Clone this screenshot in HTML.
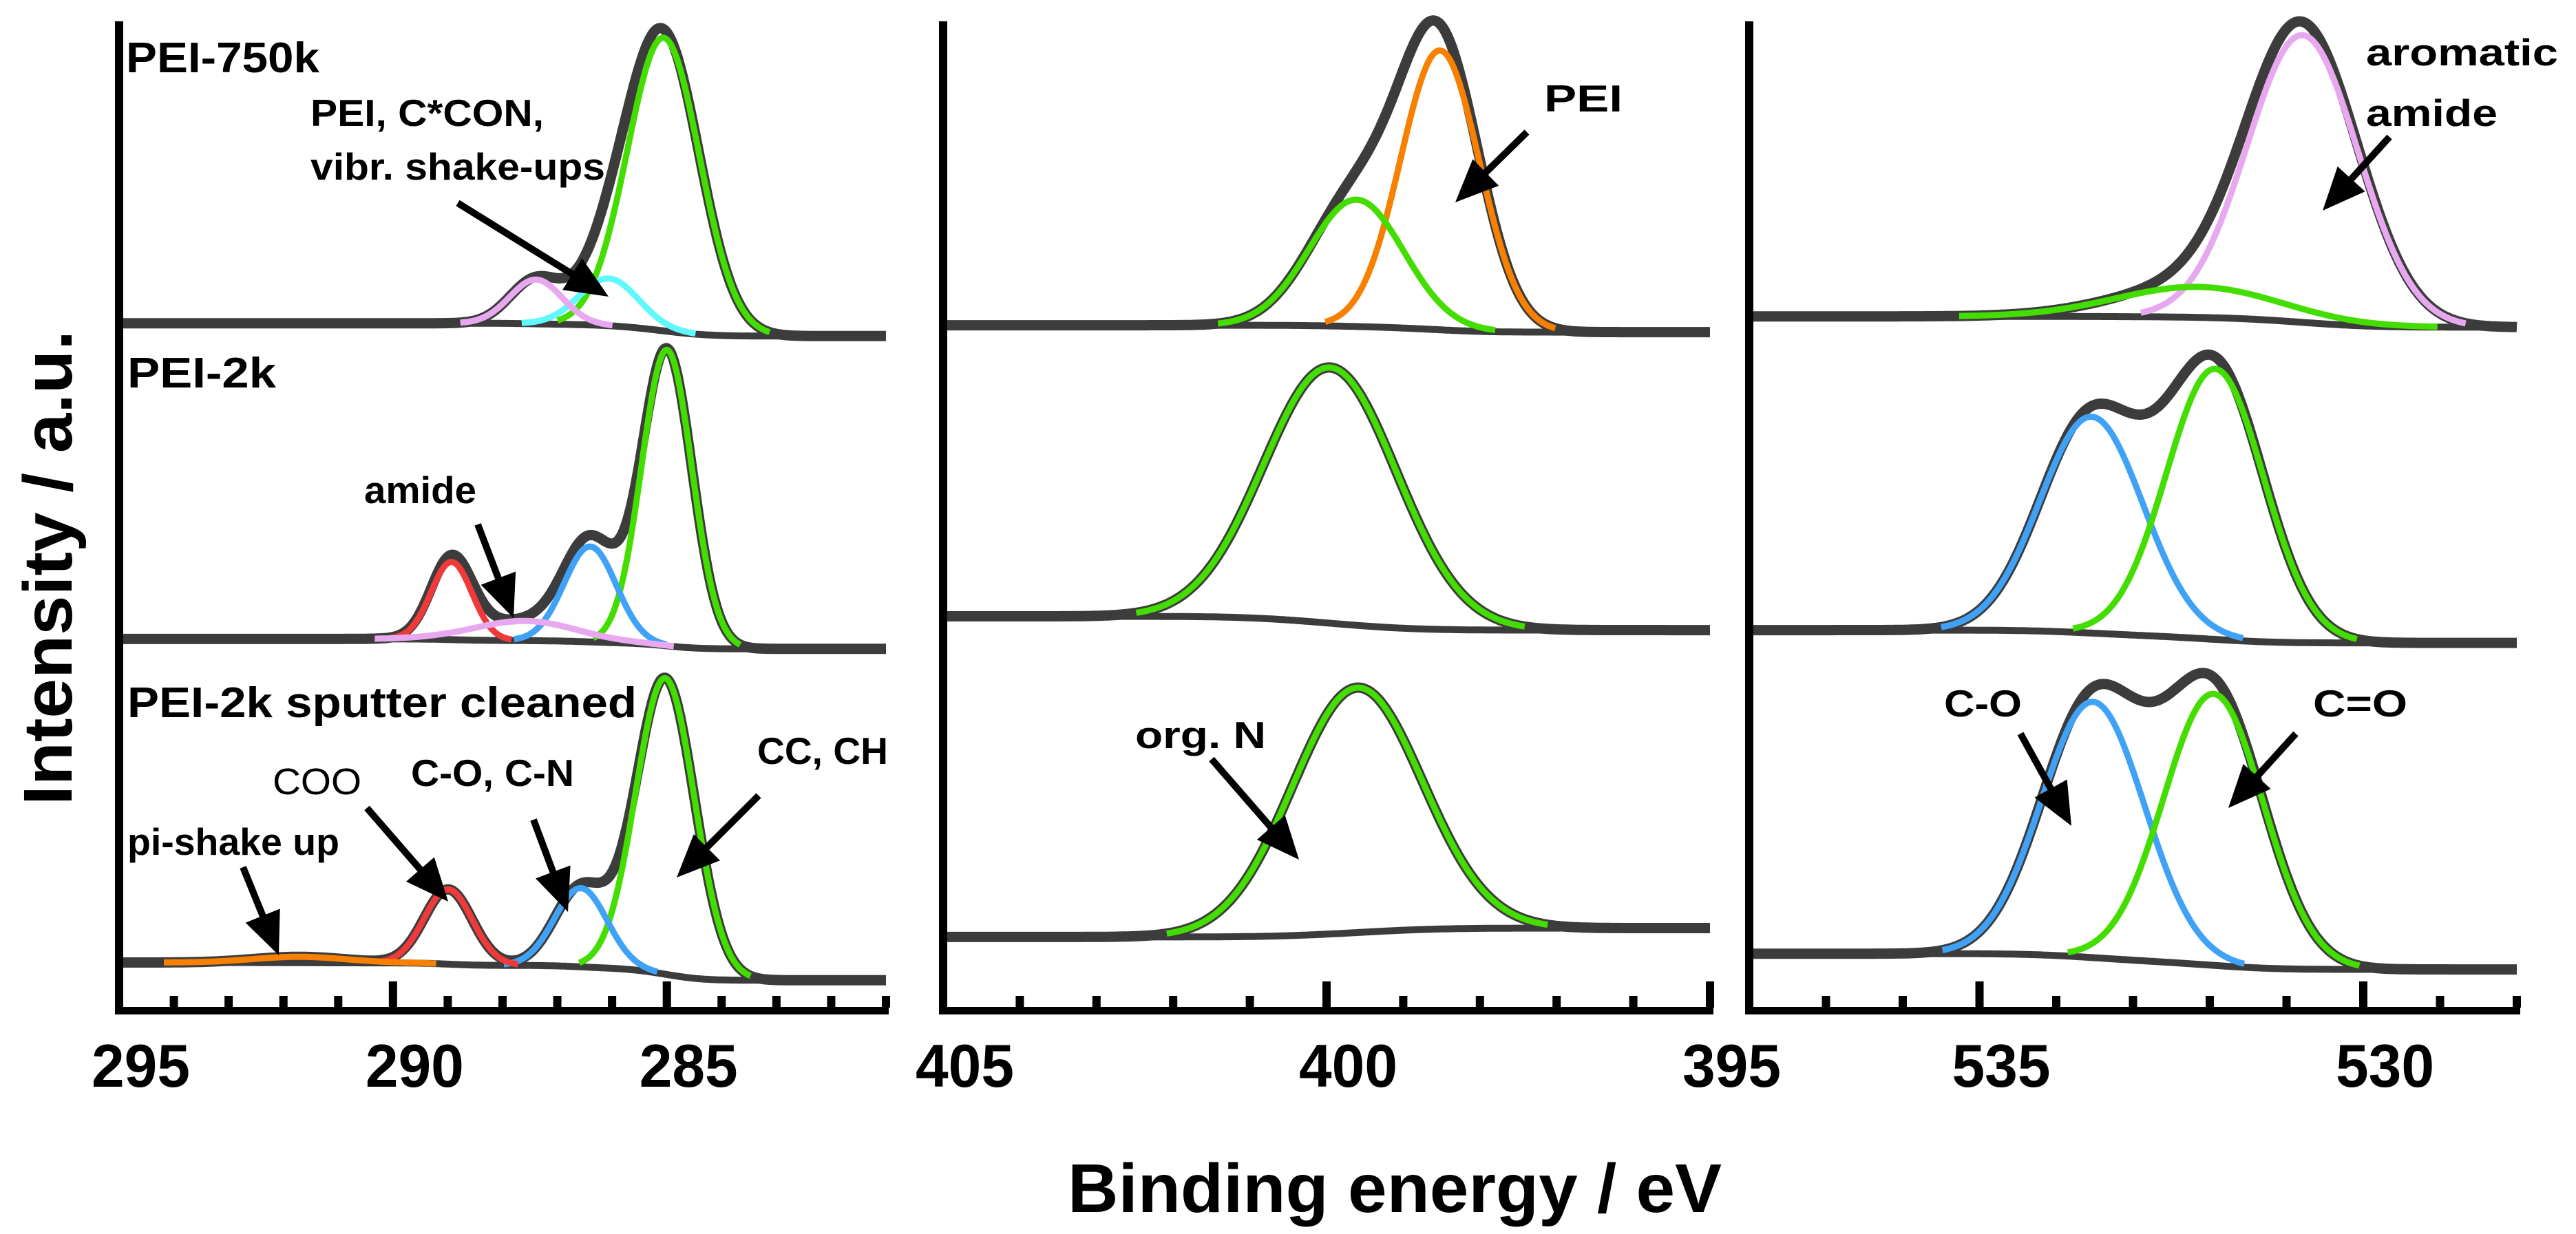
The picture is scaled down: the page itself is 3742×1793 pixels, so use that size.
<!DOCTYPE html>
<html><head><meta charset="utf-8"><title>XPS spectra</title>
<style>html,body{margin:0;padding:0;background:#fff}svg{display:block}text{font-family:"Liberation Sans",Arial,sans-serif}</style>
</head><body>
<svg id="chart" xmlns="http://www.w3.org/2000/svg" width="3742" height="1793" viewBox="0 0 3742 1793">
<rect width="3742" height="1793" fill="#fff"/>
<g id="plots"></g>
<g id="annot"></g>
<text transform="translate(104,825) rotate(-90)" text-anchor="middle" font-size="100" font-weight="bold" textLength="690" lengthAdjust="spacingAndGlyphs">Intensity / a.u.</text>
<text x="1551" y="1761" font-size="100" font-weight="bold" textLength="950" lengthAdjust="spacingAndGlyphs">Binding energy / eV</text>
</svg>
<script>
// ---- data (binding energies in eV, intensities in arbitrary units) ----
const panelNames = ["C1s", "N1s", "O1s"];
const panelMin = [281, 395, 528];
const panelMax = [295, 405, 538];
const majorTicks = [[295, 290, 285], [405, 400, 395], [535, 530]];
const tickLabels = [["295", "290", "285"], ["405", "400", "395"], ["535", "530"]];
const spectraNames = ["PEI-750k", "PEI-2k", "PEI-2k sputter cleaned"];
// background level at high-BE end (left) and low-BE end (right) [panel][spectrum]
const bgLeft = [[693, 372, 43], [691, 395, 69], [700, 381, 52]];
const bgRight = [[680, 362, 25], [684, 381, 78], [689, 368, 36]];
// components: [panel][spectrum] -> list
const peakCenter = [
  [[285.06, 286.06, 287.39], [285.0, 286.4, 288.93, 287.6], [285.03, 286.57, 288.99, 291.7]],
  [[398.52, 399.61], [399.95], [399.6]],
  [[530.79, 532.15], [533.54, 531.93], [533.52, 531.95]]
];
const peakHeight = [
  [[298, 48, 45], [301, 97, 79, 20], [301, 80, 76, 6]],
  [[284, 129], [260], [249]],
  [[292, 31], [220, 275], [260, 276]]
];
const peakFwhm = [
  [[1.55, 1.28, 1.12], [1.08, 1.12, 0.88, 2.2], [1.26, 1.13, 1.03, 2.0]],
  [[1.21, 1.45], [2.04], [2.0]],
  [[1.7, 2.5], [1.58, 1.49], [1.58, 1.53]]
];
const peakColor = [
  [["#44dd00", "#5ff8ff", "#e8a8f0"], ["#44dd00", "#3fa2f7", "#f03a3a", "#e8a8f0"], ["#44dd00", "#3fa2f7", "#f03a3a", "#f78000"]],
  [["#f78000", "#44dd00"], ["#44dd00"], ["#44dd00"]],
  [["#e8a8f0", "#44dd00"], ["#3fa2f7", "#44dd00"], ["#3fa2f7", "#44dd00"]]
];

// ---- layout ----
const NS = "http://www.w3.org/2000/svg";
const pxLeft = [173, 1370, 2541];
const pxRight = [1287, 2484, 3656];
const bandLeft = [167, 1365, 2536];
const bandRight = [1291, 2489, 3661];
const yAxisBottom = 1460, yUnit = 1.429;
function xScale(p, e) { return pxLeft[p] + (panelMax[p] - e) / (panelMax[p] - panelMin[p]) * (pxRight[p] - pxLeft[p]); }
function yScale(v) { return yAxisBottom - v * yUnit; }
function gauss(e, c, h, w) { const s = w / 2.3548; return h * Math.exp(-((e - c) * (e - c)) / (2 * s * s)); }
function mk(tag, attrs, parent) { const el = document.createElementNS(NS, tag); for (const k in attrs) el.setAttribute(k, attrs[k]); parent.appendChild(el); return el; }

const plots = document.getElementById("plots");
const N = 600;
for (let p = 0; p < 3; p++) {
  const g = mk("g", {}, plots);
  
  
  for (let s = 0; s < 3; s++) {
    const cs = peakCenter[p][s], hs = peakHeight[p][s], ws = peakFwhm[p][s];
    const es = [], sum = [];
    for (let i = 0; i <= N; i++) {
      const e = panelMin[p] + (panelMax[p] - panelMin[p]) * i / N; es.push(e);
      let t = 0; for (let k = 0; k < cs.length; k++) t += gauss(e, cs[k], hs[k], ws[k]); sum.push(t);
    }
    const cum = [0]; for (let i = 1; i <= N; i++) cum.push(cum[i - 1] + (sum[i] + sum[i - 1]) / 2);
    const tot = cum[N] || 1;
    const bg = es.map((e, i) => bgRight[p][s] + (bgLeft[p][s] - bgRight[p][s]) * cum[i] / tot);
    const pts = (arr, idx) => idx.map(i => xScale(p, es[i]).toFixed(1) + "," + yScale(arr[i]).toFixed(1)).join(" ");
    const all = es.map((e, i) => i);
    const env = mk("polyline", { points: pts(sum.map((v, i) => v + bg[i]), all), fill: "none", stroke: "#3c3c3c", "stroke-width": 15, "stroke-linejoin": "round" }, g);
    
    
    const bl = mk("polyline", { points: pts(bg, all), fill: "none", stroke: "#3c3c3c", "stroke-width": 10 }, g);
    
    
    for (let k = 0; k < cs.length; k++) {
      const gv = es.map(e => gauss(e, cs[k], hs[k], ws[k]));
      const comp = gv.map((v, i) => v + bg[i]);
      const idx = all.filter(i => Math.abs(es[i] - cs[k]) < ws[k] * 1.25);
      const ln = mk("polyline", { points: pts(comp, idx), fill: "none", stroke: peakColor[p][s][k], "stroke-width": 9, "stroke-linejoin": "round" }, g);
      
      
    }
  }
  const ax = mk("line", { x1: pxLeft[p], y1: 31, x2: pxLeft[p], y2: 1474, stroke: "#000", "stroke-width": 12 }, g);
  
  
  const band = mk("rect", { x: bandLeft[p], y: 1463, width: bandRight[p] - bandLeft[p], height: 11, fill: "#000" }, g);
  
  
  for (let e = panelMin[p]; e <= panelMax[p]; e++) {
    const major = majorTicks[p].indexOf(e) >= 0;
    const x = xScale(p, e);
    const t = mk("line", { x1: x, y1: major ? 1426 : 1447, x2: x, y2: 1464, stroke: "#000", "stroke-width": 12 }, g);
    
    
  }
  for (let j = 0; j < majorTicks[p].length; j++) {
    const tl = mk("text", { x: xScale(p, majorTicks[p][j]) - 40, y: 1579, "font-size": 88, "font-weight": "bold", textLength: 143, lengthAdjust: "spacingAndGlyphs" }, g);
    tl.textContent = tickLabels[p][j];
    
    
  }
}

// ---- annotations ----
const annot = document.getElementById("annot");
const labels = [
  ["PEI-750k", 183, 105, 62, 281, "bold", "sample-label-750k"],
  ["PEI, C*CON,", 451, 183, 55, 339, "bold", "label-pei-ccon"],
  ["vibr. shake-ups", 451, 261, 55, 428, "bold", "label-vibr-shakeups"],
  ["PEI-2k", 185, 563, 62, 216, "bold", "sample-label-2k"],
  ["amide", 529, 731, 55, 163, "bold", "label-amide"],
  ["PEI-2k sputter cleaned", 185, 1042, 62, 740, "bold", "sample-label-sputter"],
  ["COO", 396, 1154, 54, 129, "normal", "label-coo"],
  ["C-O, C-N", 597, 1142, 55, 237, "bold", "label-co-cn"],
  ["CC, CH", 1100, 1110, 55, 190, "bold", "label-cc-ch"],
  ["pi-shake up", 185, 1242, 55, 308, "bold", "label-pi-shake"],
  ["PEI", 2243, 162, 55, 114, "bold", "label-pei"],
  ["org. N", 1649, 1087, 55, 190, "bold", "label-org-n"],
  ["aromatic", 3437, 95, 55, 279, "bold", "label-aromatic"],
  ["amide", 3437, 183, 55, 191, "bold", "label-aromatic-amide"],
  ["C-O", 2824, 1041, 55, 113, "bold", "label-c-o"],
  ["C=O", 3360, 1041, 55, 137, "bold", "label-c-double-o"]
];
labels.forEach(l => {
  const t = mk("text", { x: l[1], y: l[2], "font-size": l[3], "font-weight": l[5], textLength: l[4], lengthAdjust: "spacingAndGlyphs" }, annot);
  t.textContent = l[0];
  
  
});
const arrows = [
  [665, 295, 884, 431], [694, 762, 746, 898], [533, 1174, 651, 1310], [775, 1191, 825, 1325],
  [1102, 1156, 983, 1275], [353, 1260, 405, 1388], [2218, 192, 2114, 294], [1760, 1103, 1887, 1249],
  [3471, 199, 3374, 306], [2935, 1066, 3009, 1200], [3335, 1066, 3237, 1174]
];
arrows.forEach(a => {
  const [x1, y1, x2, y2] = a;
  const dx = x2 - x1, dy = y2 - y1, L = Math.hypot(dx, dy), ux = dx / L, uy = dy / L;
  const hl = 62, hw = 27;
  const bx = x2 - ux * hl, by = y2 - uy * hl;
  const g = mk("g", {}, annot);
  
  
  mk("line", { x1: x1, y1: y1, x2: bx + ux * 5, y2: by + uy * 5, stroke: "#000", "stroke-width": 10 }, g);
  mk("polygon", { points: `${x2},${y2} ${bx - uy * hw},${by + ux * hw} ${bx + uy * hw},${by - ux * hw}`, fill: "#000" }, g);
});
</script>
</body></html>
